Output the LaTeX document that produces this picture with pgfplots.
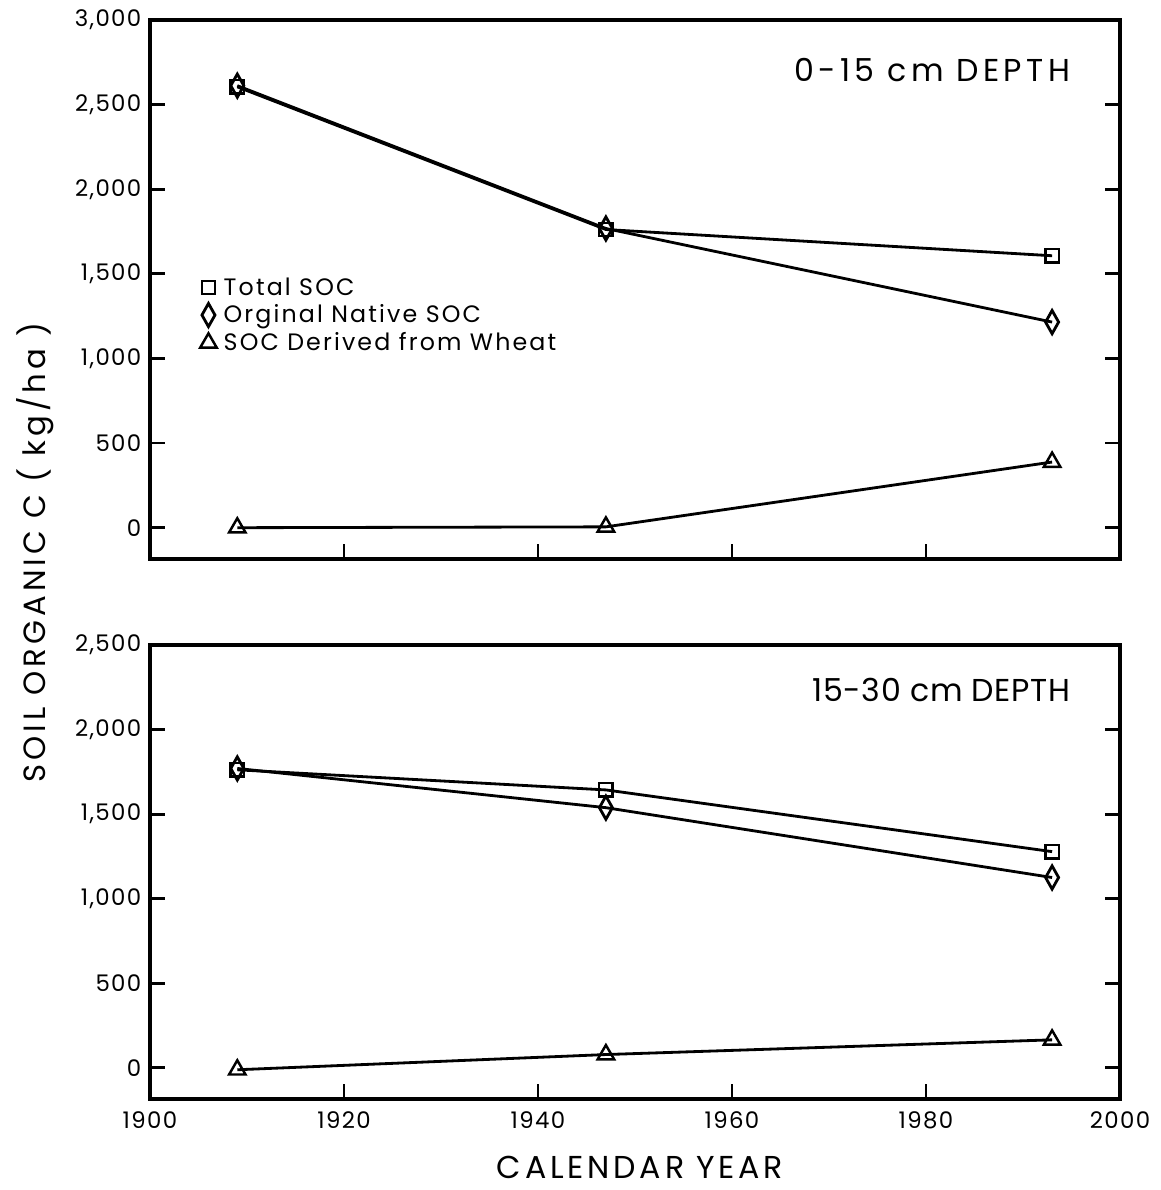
\documentclass[border=0pt]{standalone}
\usepackage{fontspec}
\setmainfont{Poppins}
\usepackage{pgfplots}
\pgfplotsset{compat=1.18}

\pgfplotsset{
  socaxis/.style={
    scale only axis,
    width=19.4cm,
    xmin=1900, xmax=2000,
    ymin=-185,
    xtick={1900,1920,...,2000},
    xtick pos=bottom,
    ytick pos=both,
    yticklabel pos=left,
    tick align=inside,
    major tick length=0.3cm,
    axis line style={line width=2.4pt},
    every tick/.style={line width=1.6pt, black},
    tick label style={font=\fontsize{13}{15}\selectfont\addfontfeature{LetterSpace=6}},
    /pgf/number format/assume math mode=true,
    /pgf/number format/1000 sep={,},
    xticklabel style={/pgf/number format/1000 sep={}, yshift=-0.12cm},
    yticklabel style={xshift=-0.05cm},
    clip=false,
  },
  soc/.style={black, line width=1.6pt, mark options={solid, fill=white, line width=1.4pt}},
  total/.style={soc, mark=square, mark size=3.8pt},
  native/.style={soc, mark=diamond, mark size=6.6pt, mark options={xscale=0.75}},
  wheat/.style={soc, mark=triangle, mark size=5.4pt},
}

\begin{document}
\begin{tikzpicture}
\path (0,0) rectangle (23.22cm,-23.8cm);

% 0-15 cm
\begin{axis}[socaxis,
    at={(3cm,-0.4cm)}, anchor=north west,
    height=10.78cm,
    ymax=3000,
    ytick={0,500,...,3000},
    xticklabels={},
    legend style={draw=none, fill=none, at={(0.046,0.536)}, anchor=north west,
      font=\fontsize{13.5}{15}\selectfont\addfontfeature{LetterSpace=9}, row sep=0pt,
      nodes={inner xsep=4pt}},
    legend cell align=left,
    legend image code/.code={\draw[#1] plot coordinates {(0.1cm,0cm)};},
  ]
  \addplot[total] coordinates {(1909,2605) (1947,1762) (1993,1607)};
  \addplot[native] coordinates {(1909,2612) (1947,1768) (1993,1215)};
  \addplot[wheat] coordinates {(1909,0) (1947,5) (1993,388)};
  \legend{Total SOC, Orginal Native SOC, SOC Derived from Wheat}
  \node[anchor=east, font=\fontsize{18}{21}\selectfont\addfontfeature{LetterSpace=14}] at (rel axis cs:0.955,0.907) {0-15 cm DEPTH};
\end{axis}

% 15-30 cm
\begin{axis}[socaxis,
    at={(3cm,-12.9cm)}, anchor=north west,
    height=9.08cm,
    ymax=2500,
    ytick={0,500,...,2500},
  ]
  \addplot[total] coordinates {(1909,1762) (1947,1643) (1993,1278)};
  \addplot[native] coordinates {(1909,1770) (1947,1538) (1993,1125)};
  \addplot[wheat] coordinates {(1909,-12) (1947,78) (1993,165)};
  \node[anchor=east, font=\fontsize{18}{21}\selectfont\addfontfeature{LetterSpace=2}] at (rel axis cs:0.955,0.90) {15-30 cm DEPTH};
\end{axis}

\node[rotate=90, font=\fontsize{17.5}{20}\selectfont\addfontfeature{LetterSpace=13}] at (0.7cm,-11.05cm) {SOIL ORGANIC C ( kg/ha )};
\node[font=\fontsize{18}{21}\selectfont\addfontfeature{LetterSpace=12}] at (12.8cm,-23.35cm) {CALENDAR YEAR};
\end{tikzpicture}
\end{document}
